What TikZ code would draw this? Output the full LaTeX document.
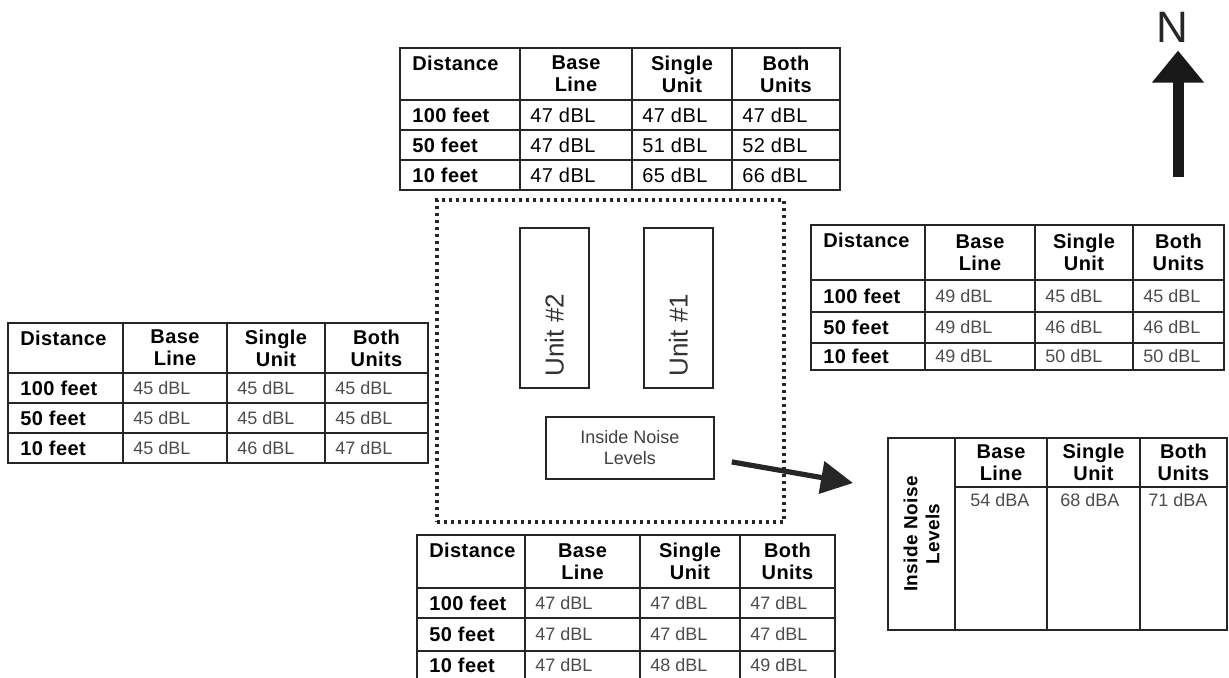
\documentclass[tikz,border=0pt]{standalone}
\usepackage{fontspec}
\setmainfont{Liberation Sans}
\newfontfamily\tabfont[LetterSpace=2]{Liberation Sans}
\usetikzlibrary{arrows.meta,positioning,calc}
\tikzset{
  cell/.style   ={draw=black!85, line width=0.9pt, inner sep=0pt, outer sep=0pt, anchor=north west},
  hd/.style     ={font=\tabfont\fontsize{10}{11}\selectfont\bfseries, align=center, inner sep=0pt},
  lab/.style    ={font=\tabfont\fontsize{10}{11}\selectfont\bfseries, inner sep=0pt, anchor=west},
  val/.style    ={font=\tabfont\fontsize{10}{11}\selectfont, inner sep=0pt, anchor=west},
  valthin/.style={val, font=\fontsize{9}{10}\selectfont, text=black!70},
  unitbox/.style={draw=black!85, line width=0.9pt, inner sep=0pt, anchor=north west},
  unitlbl/.style={font=\fontsize{13}{15}\selectfont, text=black!80, rotate=90, anchor=west, inner sep=0pt},
  site/.style   ={draw=black!85, line width=2pt, dash pattern=on 1.7pt off 1.8pt, inner sep=0pt, anchor=north west},
  ar/.style     ={-{Triangle[length=16pt, width=16pt]}, line width=2.6pt, draw=black!85},
  narrow/.style ={-{Triangle[length=16pt, width=25pt]}, line width=5.5pt, draw=black!90},
}

% #1 name, #2 column edges, #3 row edges, #4 rows (distance/v1/v2/v3), #5 value style
\newcommand{\leveltable}[5]{%
  \pgfmathsetmacro\yt{{#3}[0]}\pgfmathsetmacro\yb{{#3}[1]}
  \pgfmathsetmacro\xl{{#2}[0]}\pgfmathsetmacro\xr{{#2}[1]}
  \node[cell, minimum width={(\xr-\xl)*0.5pt}, minimum height={(\yb-\yt)*0.5pt}] (#1-d0) at (\xl,\yt) {};
  \node[lab, anchor=north west] at ($(#1-d0.north west)+(12,8)$) {Distance};
  \foreach \k/\head [count=\ci from 1] in {b/{Base\\Line}, s/{Single\\Unit}, u/{Both\\Units}} {
    \pgfmathsetmacro\xl{{#2}[\ci]}\pgfmathsetmacro\xr{{#2}[\ci+1]}
    \node[cell, minimum width={(\xr-\xl)*0.5pt}, minimum height={(\yb-\yt)*0.5pt}] (#1-\k0) at (\xl,\yt) {};
    \node[hd] at (#1-\k0) {\head};
  }
  \foreach \dist/\va/\vb/\vc [count=\ri] in {#4} {
    \pgfmathsetmacro\yt{{#3}[\ri]}\pgfmathsetmacro\yb{{#3}[\ri+1]}
    \foreach \v/\k/\sty/\pad [count=\ci from 0] in {\dist/d/lab/12, \va/b/#5/10, \vb/s/#5/10, \vc/u/#5/10} {
      \pgfmathsetmacro\xl{{#2}[\ci]}\pgfmathsetmacro\xr{{#2}[\ci+1]}
      \node[cell, minimum width={(\xr-\xl)*0.5pt}, minimum height={(\yb-\yt)*0.5pt}] (#1-\k\ri) at (\xl,\yt) {};
      \node[\sty] at ($(#1-\k\ri.west)+(\pad,0)$) {\v};
    }
  }
}

\begin{document}
\begin{tikzpicture}[x=0.5pt, y=-0.5pt]
\useasboundingbox (0,0) rectangle (1229,677);

% ---- site with the two units ----
\node[site, minimum width={347*0.5pt}, minimum height={322*0.5pt}] (site) at (435,198) {};
\node[unitbox, minimum width={69*0.5pt}, minimum height={160*0.5pt}] (unit2) at (519,227) {};
\node[unitlbl] at ([yshift=6pt]unit2.south) {Unit \#2};
\node[unitbox, minimum width={69*0.5pt}, minimum height={160*0.5pt}] (unit1) at (643,227) {};
\node[unitlbl] at ([yshift=6pt]unit1.south) {Unit \#1};
\node[unitbox, minimum width={168*0.5pt}, minimum height={62*0.5pt}, align=center,
      font=\fontsize{9}{10.5}\selectfont, text=black!75] (noise) at (545,416) {Inside Noise\\Levels};

% ---- levels at the four sides ----
\leveltable{north}{400,520,632,732,840}{48,100,130,160,190}
  {100 feet/47 dBL/47 dBL/47 dBL, 50 feet/47 dBL/51 dBL/52 dBL, 10 feet/47 dBL/65 dBL/66 dBL}{val}
\leveltable{east}{811,925,1035,1133,1224}{225,280,312,343,370}
  {100 feet/49 dBL/45 dBL/45 dBL, 50 feet/49 dBL/46 dBL/46 dBL, 10 feet/49 dBL/50 dBL/50 dBL}{valthin}
\leveltable{west}{8,123,227,325,428}{323,373,403,433,463}
  {100 feet/45 dBL/45 dBL/45 dBL, 50 feet/45 dBL/45 dBL/45 dBL, 10 feet/45 dBL/46 dBL/47 dBL}{valthin}
\leveltable{south}{417,525,640,740,835}{535,588,618,651,680}
  {100 feet/47 dBL/47 dBL/47 dBL, 50 feet/47 dBL/47 dBL/47 dBL, 10 feet/47 dBL/48 dBL/49 dBL}{valthin}

% ---- inside noise levels ----
\node[cell, minimum width={67*0.5pt}, minimum height={192*0.5pt}] (in-lab) at (888,438) {};
\node[hd, rotate=90, font=\tabfont\fontsize{9.5}{11}\selectfont\bfseries] at (in-lab) {Inside Noise\\Levels};
\foreach \k/\head/\v/\pad [count=\ci from 0] in {b/{Base\\Line}/54 dBA/15, s/{Single\\Unit}/68 dBA/13, u/{Both\\Units}/71 dBA/8} {
  \pgfmathsetmacro\xl{{955,1047,1140,1227}[\ci]}\pgfmathsetmacro\xr{{955,1047,1140,1227}[\ci+1]}
  \node[cell, minimum width={(\xr-\xl)*0.5pt}, minimum height={49*0.5pt}] (in-\k0) at (\xl,438) {};
  \node[hd] at (in-\k0) {\head};
  \node[cell, minimum width={(\xr-\xl)*0.5pt}, minimum height={143*0.5pt}] (in-\k1) at (\xl,487) {};
  \node[valthin, anchor=north west] at ($(in-\k1.north west)+(\pad,6)$) {\v};
}
\draw[ar] ($(noise.east)+(17,14)$) -- ($(in-lab.west)+(-35,-51)$);

% ---- north arrow ----
\node[inner sep=0pt, font=\fontsize{22}{24}\selectfont, text=black!85] (north) at (1172,27) {N};
\coordinate (nbase) at (1178,177);
\draw[narrow] (nbase) -- ([yshift=-4pt]nbase |- north.south);

\end{tikzpicture}
\end{document}
